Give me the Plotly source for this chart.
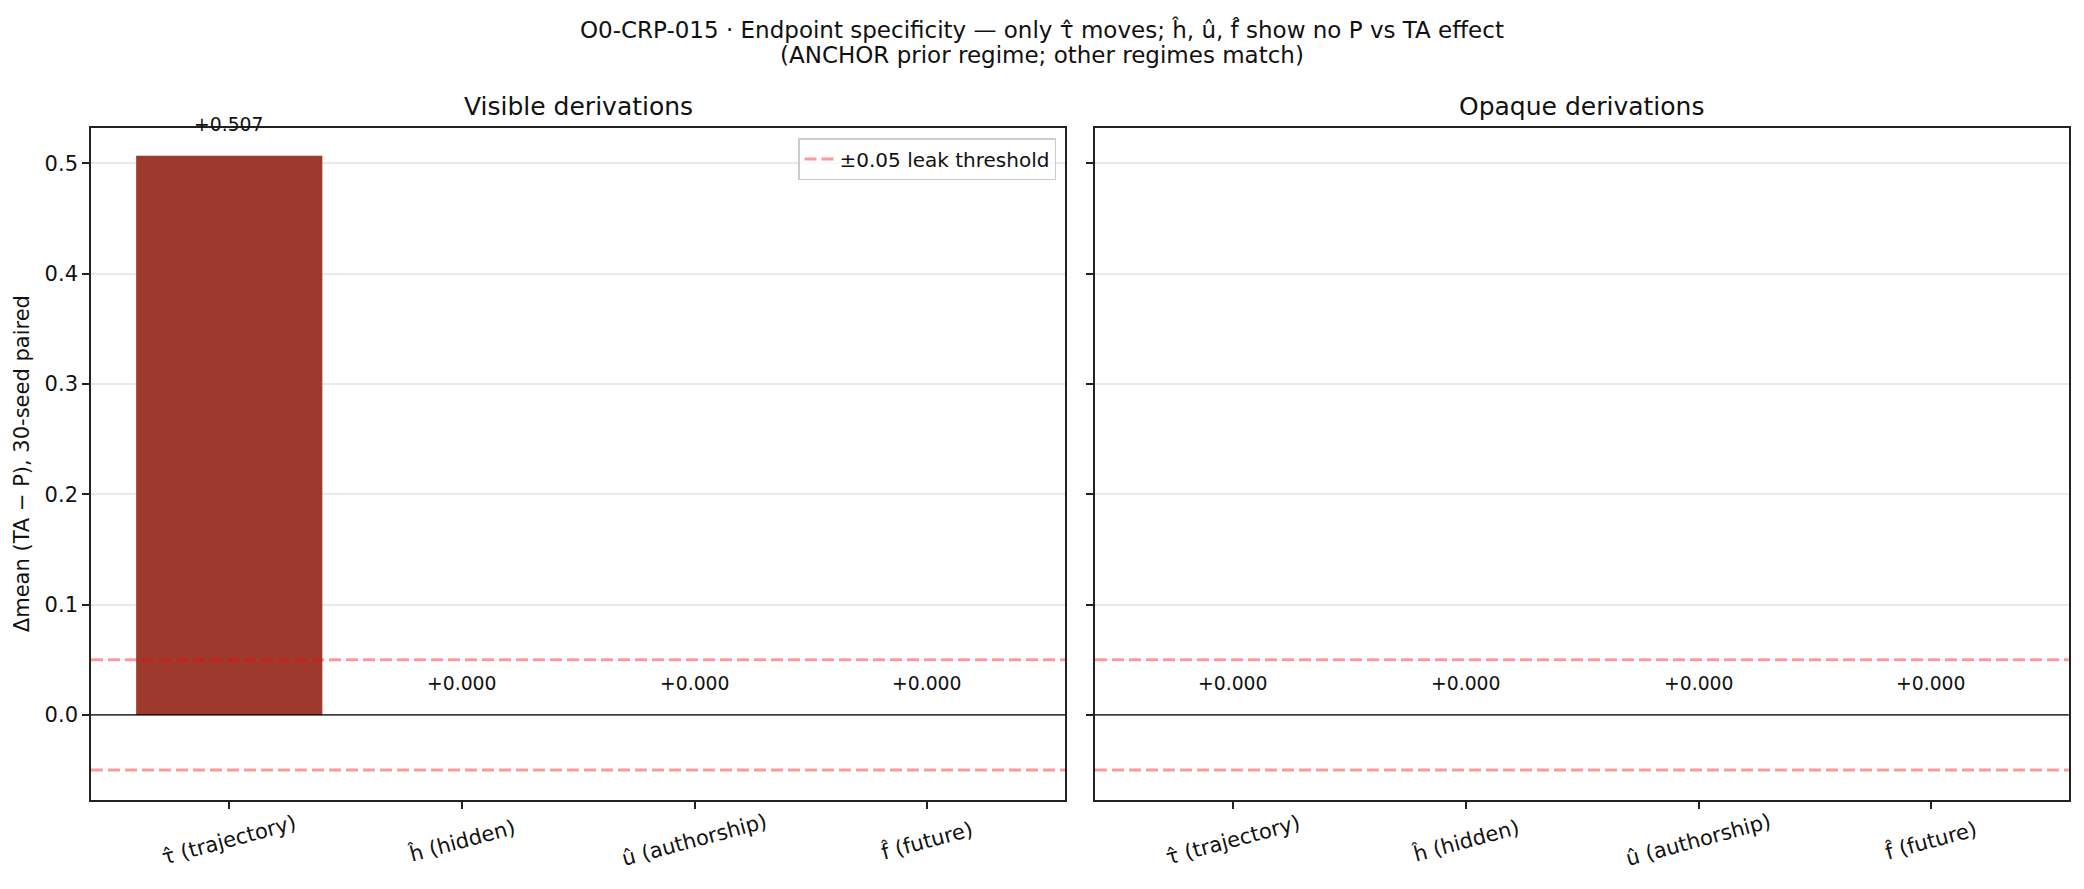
import plotly.graph_objects as go

# --- data ---
endpoints = ["τ̂ (trajectory)", "ĥ (hidden)", "û (authorship)", "f̂ (future)"]
panels = ["Visible derivations", "Opaque derivations"]
delta_visible = [0.507, 0.000, 0.000, 0.000]
delta_opaque = [0.000, 0.000, 0.000, 0.000]
leak_threshold = 0.05
yticks = [0.0, 0.1, 0.2, 0.3, 0.4, 0.5]

BAR = "#9d3a2d"
THR = "rgba(255,0,0,0.4)"
FONT = "DejaVu Sans"
PAGE_OFF = 8          # default body margin of the html page
W, H = 2084 - PAGE_OFF, 889 - PAGE_OFF


def fx(px):
    return (px - PAGE_OFF) / W


def fy(py):
    return 1 - (py - PAGE_OFF) / H


fig = go.Figure()

axes = [("x", "y", delta_visible), ("x2", "y2", delta_opaque)]
for xa, ya, vals in axes:
    fig.add_trace(go.Bar(
        x=endpoints, y=vals, xaxis=xa, yaxis=ya,
        marker=dict(color=BAR, line=dict(width=0)),
        width=0.8, showlegend=False, hoverinfo="skip",
    ))
    # value labels
    for cat, v in zip(endpoints, vals):
        fig.add_annotation(
            x=cat, y=v, xref=xa, yref=ya, yshift=31,
            text=f"{v:+.3f}", showarrow=False,
            xanchor="center", yanchor="middle",
            font=dict(family=FONT, size=18.8, color="#111"),
        )
    # tick labels, rotated like matplotlib (centered under the tick)
    for cat in endpoints:
        fig.add_annotation(
            x=cat, y=fy(840), xref=xa, yref="paper",
            text=cat, showarrow=False, textangle=-15,
            xanchor="center", yanchor="middle",
            font=dict(family=FONT, size=21, color="#111"),
        )
    # threshold and zero lines
    for t in (leak_threshold, -leak_threshold):
        fig.add_shape(type="line", xref=f"{xa} domain", yref=ya,
                      x0=0, x1=1, y0=t, y1=t, layer="above",
                      line=dict(color=THR, width=3, dash="12px,5px"))
    fig.add_shape(type="line", xref=f"{xa} domain", yref=ya,
                  x0=0, x1=1, y0=0, y1=0, layer="above",
                  line=dict(color="#000", width=1.3))

# legend proxy
fig.add_trace(go.Scatter(
    x=[None], y=[None], mode="lines", xaxis="x", yaxis="y",
    line=dict(color=THR, width=3, dash="12px,5px"),
    name=f"±{leak_threshold:.2f} leak threshold",
))

ydom = [fy(800), fy(128.3)]
xdoms = [[fx(91), fx(1065)], [fx(1095), fx(2068.7)]]

axis_common = dict(
    showline=True, linecolor="#222", linewidth=1.6, mirror=True,
    ticks="outside", ticklen=7, tickwidth=1.6, tickcolor="#222",
)
xcommon = dict(axis_common, type="category", range=[-0.594, 3.591],
               showgrid=False, showticklabels=False, zeroline=False)
ycommon = dict(axis_common, range=[-0.0771, 0.5319], tickvals=yticks,
               tickformat=".1f", showgrid=True,
               gridcolor="rgba(176,176,176,0.28)", gridwidth=1.5,
               zeroline=False, layer="above traces", domain=ydom,
               tickfont=dict(family=FONT, size=21, color="#111"))

fig.update_layout(
    xaxis=dict(xcommon, domain=xdoms[0], anchor="y"),
    xaxis2=dict(xcommon, domain=xdoms[1], anchor="y2"),
    yaxis=dict(ycommon, anchor="x"),
    yaxis2=dict(ycommon, anchor="x2", matches="y", showticklabels=False),
)

# subplot titles
for name, dom in zip(panels, xdoms):
    fig.add_annotation(
        x=(dom[0] + dom[1]) / 2, y=fy(107), xref="paper", yref="paper",
        text=name, showarrow=False, xanchor="center", yanchor="middle",
        font=dict(family=FONT, size=25, color="#111"),
    )

# y axis label
fig.add_annotation(
    x=fx(22), y=(ydom[0] + ydom[1]) / 2, xref="paper", yref="paper",
    text="Δmean (TA − P), 30-seed paired", textangle=-90, showarrow=False,
    xanchor="center", yanchor="middle",
    font=dict(family=FONT, size=21, color="#111"),
)

# suptitle
fig.add_annotation(
    x=fx(1042), y=fy(29), xref="paper", yref="paper",
    text="O0-CRP-015 · Endpoint specificity — only τ̂ moves; ĥ, û, f̂ show no P vs TA effect",
    showarrow=False, xanchor="center", yanchor="middle",
    font=dict(family=FONT, size=23, color="#111"),
)
fig.add_annotation(
    x=fx(1042), y=fy(55), xref="paper", yref="paper",
    text="(ANCHOR prior regime; other regimes match)",
    showarrow=False, xanchor="center", yanchor="middle",
    font=dict(family=FONT, size=23, color="#111"),
)

fig.update_layout(
    width=W, height=H,
    margin=dict(l=0, r=0, t=0, b=0),
    paper_bgcolor="white", plot_bgcolor="white",
    font=dict(family=FONT, color="#111"),
    showlegend=True,
    legend=dict(
        x=fx(1056), y=fy(138), xanchor="right", yanchor="top",
        bgcolor="rgba(255,255,255,0.8)", bordercolor="#cccccc", borderwidth=1.5,
        font=dict(family=FONT, size=20, color="#111"),
    ),
)

fig.write_html("out.html")
